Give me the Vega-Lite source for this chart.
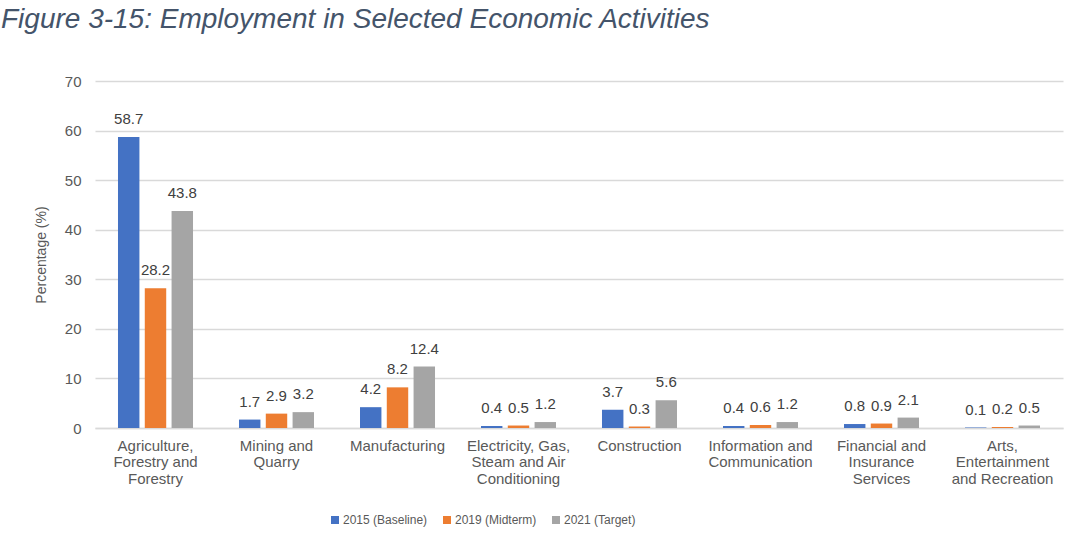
{
  "$schema": "https://vega.github.io/schema/vega-lite/v6.json",
  "width": 968,
  "height": 347,
  "autosize": {"type": "none"},
  "padding": {"left": 95, "top": 81, "right": 18, "bottom": 116},
  "background": "white",
  "title": {
    "text": "Figure 3-15: Employment in Selected Economic Activities",
    "orient": "top",
    "anchor": "start",
    "frame": "group",
    "font": "Liberation Sans",
    "fontStyle": "italic",
    "fontWeight": "normal",
    "fontSize": 28,
    "color": "#44546A",
    "baseline": "alphabetic",
    "dx": -94,
    "offset": 18
  },
  "data": {
    "values": [
      {"activity": "Agriculture,|Forestry and|Forestry", "year": "2015 (Baseline)", "value": 58.7},
      {"activity": "Agriculture,|Forestry and|Forestry", "year": "2019 (Midterm)", "value": 28.2},
      {"activity": "Agriculture,|Forestry and|Forestry", "year": "2021 (Target)", "value": 43.8},
      {"activity": "Mining and|Quarry", "year": "2015 (Baseline)", "value": 1.7},
      {"activity": "Mining and|Quarry", "year": "2019 (Midterm)", "value": 2.9},
      {"activity": "Mining and|Quarry", "year": "2021 (Target)", "value": 3.2},
      {"activity": "Manufacturing", "year": "2015 (Baseline)", "value": 4.2},
      {"activity": "Manufacturing", "year": "2019 (Midterm)", "value": 8.2},
      {"activity": "Manufacturing", "year": "2021 (Target)", "value": 12.4},
      {"activity": "Electricity, Gas,|Steam and Air|Conditioning", "year": "2015 (Baseline)", "value": 0.4},
      {"activity": "Electricity, Gas,|Steam and Air|Conditioning", "year": "2019 (Midterm)", "value": 0.5},
      {"activity": "Electricity, Gas,|Steam and Air|Conditioning", "year": "2021 (Target)", "value": 1.2},
      {"activity": "Construction", "year": "2015 (Baseline)", "value": 3.7},
      {"activity": "Construction", "year": "2019 (Midterm)", "value": 0.3},
      {"activity": "Construction", "year": "2021 (Target)", "value": 5.6},
      {"activity": "Information and|Communication", "year": "2015 (Baseline)", "value": 0.4},
      {"activity": "Information and|Communication", "year": "2019 (Midterm)", "value": 0.6},
      {"activity": "Information and|Communication", "year": "2021 (Target)", "value": 1.2},
      {"activity": "Financial and|Insurance|Services", "year": "2015 (Baseline)", "value": 0.8},
      {"activity": "Financial and|Insurance|Services", "year": "2019 (Midterm)", "value": 0.9},
      {"activity": "Financial and|Insurance|Services", "year": "2021 (Target)", "value": 2.1},
      {"activity": "Arts,|Entertainment|and Recreation", "year": "2015 (Baseline)", "value": 0.1},
      {"activity": "Arts,|Entertainment|and Recreation", "year": "2019 (Midterm)", "value": 0.2},
      {"activity": "Arts,|Entertainment|and Recreation", "year": "2021 (Target)", "value": 0.5}
    ]
  },
  "encoding": {
    "x": {
      "field": "activity",
      "type": "nominal",
      "sort": null,
      "scale": {"paddingInner": 0.38, "paddingOuter": 0.19},
      "axis": {
        "title": null,
        "labelAngle": 0,
        "labelExpr": "split(datum.value, '|')",
        "labelFont": "Liberation Sans",
        "labelFontSize": 15,
        "labelColor": "#595959",
        "labelLineHeight": 16.5,
        "labelPadding": 10,
        "labelBaseline": "top",
        "ticks": false,
        "domainColor": "#D9D9D9",
        "domainWidth": 1.5,
        "grid": false
      }
    },
    "xOffset": {
      "field": "year",
      "type": "nominal",
      "scale": {"paddingInner": 0.2, "paddingOuter": 0}
    },
    "y": {
      "field": "value",
      "type": "quantitative",
      "scale": {"domain": [0, 70]},
      "axis": {
        "title": "Percentage (%)",
        "titleFont": "Liberation Sans",
        "titleFontSize": 14,
        "titleFontWeight": "normal",
        "titleColor": "#595959",
        "titlePadding": 16,
        "values": [0, 10, 20, 30, 40, 50, 60, 70],
        "labelFont": "Liberation Sans",
        "labelFontSize": 15,
        "labelColor": "#595959",
        "labelPadding": 14,
        "ticks": false,
        "domain": false,
        "grid": true,
        "gridColor": "#D9D9D9",
        "gridWidth": 1.5
      }
    },
    "color": {
      "field": "year",
      "type": "nominal",
      "scale": {
        "domain": ["2015 (Baseline)", "2019 (Midterm)", "2021 (Target)"],
        "range": ["#4472C4", "#ED7D31", "#A5A5A5"]
      },
      "legend": {
        "title": null,
        "orient": "none",
        "direction": "horizontal",
        "legendX": 234,
        "legendY": 433,
        "symbolType": "square",
        "symbolSize": 64,
        "symbolStrokeWidth": 0,
        "labelFont": "Liberation Sans",
        "labelFontSize": 12,
        "labelColor": "#595959",
        "labelOffset": 2,
        "columnPadding": 13
      }
    }
  },
  "layer": [
    {"mark": {"type": "bar"}},
    {
      "mark": {
        "type": "text",
        "baseline": "alphabetic",
        "dy": -13,
        "font": "Liberation Sans",
        "fontSize": 15,
        "color": "#404040"
      },
      "encoding": {
        "text": {"field": "value", "type": "quantitative", "format": ".1f"},
        "color": {"value": "#404040"}
      }
    }
  ],
  "config": {
    "view": {"stroke": null}
  }
}
